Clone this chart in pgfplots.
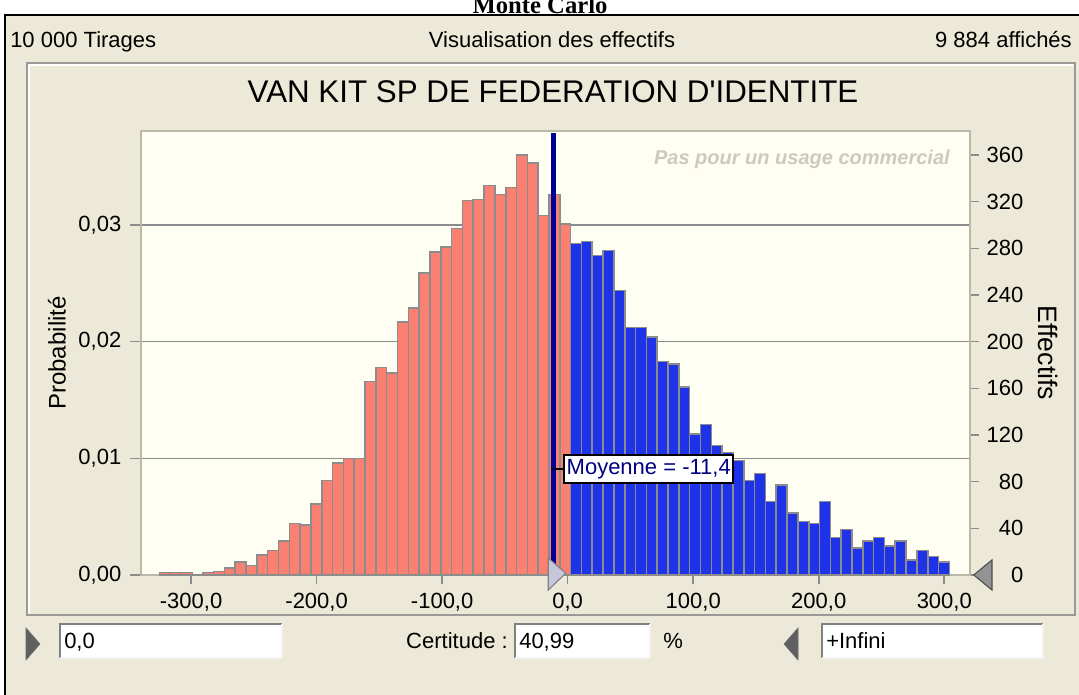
\documentclass[border=0pt]{standalone}
\usepackage{fontspec}
\setmainfont{Liberation Sans}
\newfontfamily\serifface{Liberation Serif}
\newfontfamily\straightface{Liberation Sans}[Ligatures=TeXOff]
\usepackage{pgfplots}
\usepackage{pgfplotstable}
\pgfplotsset{compat=1.18}
\definecolor{winbg}{HTML}{ECE9D8}
\definecolor{plotbg}{HTML}{FEFEF2}
\definecolor{barred}{HTML}{FA8072}
\definecolor{barblue}{HTML}{1E32E8}
\definecolor{meanblue}{HTML}{000099}
\definecolor{labblue}{HTML}{000080}
\definecolor{gridgray}{HTML}{8C8C8C}
\definecolor{framegray}{HTML}{BCB8A8}
\definecolor{wmgray}{HTML}{CACAC2}
\definecolor{grabfill}{HTML}{C6C6DC}
\newcommand{\ui}{\fontsize{16.5}{18}\selectfont}

% counts per bin, left edges (width 8.62)
\pgfplotstableread{
x y
-325.20 2
-316.58 2
-307.96 2
-299.34 0
-290.72 2
-282.10 3
-273.48 6
-264.86 11
-256.24 8
-247.62 17
-239.00 21
-230.38 29
-221.76 44
-213.14 43
-204.52 61
-195.90 81
-187.28 96
-178.66 100
-170.04 100
-161.42 166
-152.80 178
-144.18 173
-135.56 217
-126.94 229
-118.32 259
-109.70 277
-101.08 281
-92.46 297
-83.84 321
-75.22 322
-66.60 334
-57.98 326
-49.36 332
-40.74 360
-32.12 353
-23.50 308
-14.88 326
-6.26 301
2.36 301
}\redbins
\pgfplotstableread{
x y
2.36 284
10.98 286
19.60 274
28.22 278
36.84 244
45.46 212
54.08 212
62.70 204
71.32 183
79.94 181
88.56 161
97.18 121
105.80 129
114.42 111
123.04 105
131.66 98
140.28 81
148.90 87
157.52 63
166.14 77
174.76 53
183.38 46
192.00 44
200.62 63
209.24 32
217.86 39
226.48 23
235.10 29
243.72 32
252.34 25
260.96 29
269.58 13
278.20 21
286.82 16
295.44 11
304.06 11
}\bluebins

\begin{document}
\begin{tikzpicture}[x=0.75pt,y=0.75pt]
\useasboundingbox (0,0) rectangle (1079,695);
\fill[white] (0,0) rectangle (1079,695);
\fill[winbg] (5,0) rectangle (1079,680);
\draw[black,line width=1.5pt] (5,0) -- (5,680) -- (1079,680);
\node[anchor=base,font=\serifface\bfseries\fontsize{18.5}{20}\selectfont] at (540,681) {Monte Carlo};

% header
\node[anchor=base west,font=\ui,inner sep=0] at (10,647) {10 000 Tirages};
\node[anchor=base,font=\ui,inner sep=0] at (552,647) {Visualisation des effectifs};
\node[anchor=base east,font=\ui,inner sep=0] at (1072,647) {9 884 affichés};

% panel
\draw[gray!80,line width=1.2pt] (27,80) rectangle (1075,632);
\draw[white,line width=1pt] (29,82) -- (29,630) -- (1073,630);
\node[anchor=base,font=\straightface\fontsize{23.5}{25}\selectfont,inner sep=0] at (553,592) {VAN KIT SP DE FEDERATION D'IDENTITE};

\begin{axis}[
  scale only axis, width=621.75pt, height=333pt,
  at={(105.75pt,90pt)}, anchor=south west,
  xmin=-339.9, xmax=320.5, ymin=0, ymax=0.038057,
  scaled y ticks=false,
  axis background/.style={fill=plotbg},
  axis line style={draw=none},
  xtick=\empty,
  ytick={0,0.01,0.02,0.03},
  yticklabels={{0,00},{0,01},{0,02},{0,03}},
  ytick pos=left, tick align=outside, major tick length=8.25pt,
  tick style={gridgray,line width=1.2pt},
  ymajorgrids, grid style={gridgray,line width=1.2pt},
  tick label style={font=\ui},
  yticklabel style={xshift=-3pt},
  /pgf/number format/assume math mode=true,
  ylabel={Probabilité},
  ylabel style={at={(axis description cs:-0.1013,0.5)},anchor=center,font=\fontsize{18}{20}\selectfont},
]
\end{axis}

\begin{axis}[
  scale only axis, width=621.75pt, height=333pt,
  at={(105.75pt,90pt)}, anchor=south west,
  xmin=-339.9, xmax=320.5, ymin=0, ymax=380.57,
  clip=false,
  axis line style={framegray,line width=1.5pt},
  xtick={-300,-200,...,300},
  xticklabels={{-300,0},{-200,0},{-100,0},{0,0},{100,0},{200,0},{300,0}},
  ytick={0,40,...,360},
  xtick pos=bottom, ytick pos=right, yticklabel pos=right,
  tick align=outside, major tick length=7pt,
  tick style={gridgray,line width=1.2pt},
  tick label style={font=\ui},
  xticklabel style={yshift=-3pt},
  yticklabel style={anchor=west,text width=27.5pt,align=right,xshift=2pt},
  /pgf/number format/assume math mode=true,
  ylabel={Effectifs},
  ylabel style={at={(axis description cs:1.0941,0.5)},anchor=center,rotate=180,font=\fontsize{20}{22}\selectfont},
]
\addplot[ybar interval,fill=barred,draw=gridgray,line width=1.2pt] table[x=x,y=y] {\redbins};
\addplot[ybar interval,fill=barblue,draw=gridgray,line width=1.2pt] table[x=x,y=y] {\bluebins};
\addplot[meanblue,line width=4.2pt] coordinates {(-11.4,0) (-11.4,379)};
\draw[black,line width=1.5pt] (axis cs:-11.4,90.9) -- (axis cs:-3.7,90.9);
\node[draw=black,line width=1.5pt,fill=white,text=labblue,anchor=west,inner xsep=2pt,inner ysep=3pt,font=\ui] at (axis cs:-3.7,90.9) {Moyenne = -11,4};
% grabbers
\filldraw[fill=grabfill,draw=gray,line width=0.8pt] (axis cs:-15.5,14.6) -- (axis cs:-1.5,1.5) -- (axis cs:-15.5,-12.9) -- cycle;
\filldraw[fill=gray!85,draw=black!70,line width=0.8pt] (axis cs:338,12.9) -- (axis cs:323.5,0) -- (axis cs:338,-12.9) -- cycle;
\end{axis}

% watermark
\node[anchor=base east,font=\bfseries\itshape\fontsize{15}{16}\selectfont,text=wmgray,inner sep=0] at (950,530) {Pas pour un usage commercial};

% bottom controls
\filldraw[fill=gray!75!black,draw=black!60] (26,67) -- (26,35) -- (40,51) -- cycle;
\fill[white] (60,37) rectangle (282,71);
\draw[gray,line width=1pt] (60,37) -- (60,71) -- (282,71);
\draw[white!90!gray,line width=1pt] (282,71) -- (282,37) -- (60,37);
\node[anchor=base west,font=\ui,inner sep=0] at (64,46) {0,0};
\node[anchor=base east,font=\ui,inner sep=0] at (508,46) {Certitude :};
\fill[white] (515,37) rectangle (650,71);
\draw[gray,line width=1pt] (515,37) -- (515,71) -- (650,71);
\draw[white!90!gray,line width=1pt] (650,71) -- (650,37) -- (515,37);
\node[anchor=base west,font=\ui,inner sep=0] at (519,46) {40,99};
\node[anchor=base west,font=\ui,inner sep=0] at (663,46) {\%};
\filldraw[fill=gray!75!black,draw=black!60] (798,67) -- (798,35) -- (784,51) -- cycle;
\fill[white] (822,37) rectangle (1043,71);
\draw[gray,line width=1pt] (822,37) -- (822,71) -- (1043,71);
\draw[white!90!gray,line width=1pt] (1043,71) -- (1043,37) -- (822,37);
\node[anchor=base west,font=\ui,inner sep=0] at (826,46) {+Infini};
\end{tikzpicture}
\end{document}
